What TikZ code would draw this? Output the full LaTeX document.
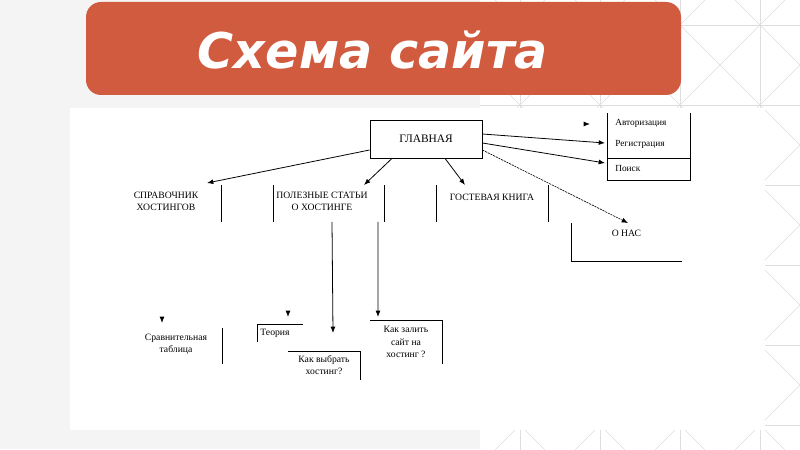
\documentclass[tikz,border=0pt]{standalone}
\usepackage{fontspec}
\setmainfont{Liberation Serif}
\newfontfamily\titlefont{DejaVu Sans Bold Oblique}
\usepackage{xcolor}
\usetikzlibrary{positioning}
\usetikzlibrary{arrows.meta}

\definecolor{brick}{RGB}{208,91,62}
\definecolor{pagegray}{RGB}{244,244,244}
\definecolor{gridgray}{RGB}{222,222,222}

\begin{document}
\begin{tikzpicture}[x=0.02cm, y=-0.02cm, line width=0.45pt,
  arr/.style={-{Latex[length=3.6pt,width=2.8pt]}},
  frame/.style={inner sep=0pt, outer sep=0pt},
  txt/.style={font=\fontsize{5.5}{6.9}\selectfont, align=center, inner sep=0.5pt},
  menutxt/.style={font=\fontsize{5.3}{6.5}\selectfont, anchor=west, inner sep=0.5pt},
  gridline/.style={draw=gridgray, line width=0.35pt}]

  % canvas 800 x 449 px
  \useasboundingbox (0,0) rectangle (800,449);
  \fill[pagegray] (0,0) rectangle (800,449);
  \fill[white] (480,0) rectangle (800,449);

  % faint pattern on the right
  \begin{scope}
    \clip (480,0) rectangle (800,449);
    \foreach \gx in {440,520,...,760} {
      \foreach \gy in {-55,25,...,425} {
        \draw[gridline] (\gx,\gy) rectangle ++(80,80);
        \draw[gridline] (\gx,\gy) -- ++(80,80);
        \draw[gridline] (\gx+80,\gy) -- ++(-80,80);
      }
    }
  \end{scope}

  % white sheet of the scheme
  \fill[white] (70,108) rectangle (765,430);

  % title bar
  \fill[brick, rounded corners=0.3cm] (86,2) rectangle (681,95);
  \node[font=\titlefont\fontsize{28}{32}\selectfont, text=white] (title) at (373,50) {Схема сайта};

  % main page
  \node[draw, minimum width=2.24cm, minimum height=0.76cm,
        font=\fontsize{6.5}{8}\selectfont] (main) at (426,139) {ГЛАВНАЯ};

  % user menu on the right
  \node[frame, minimum width=1.66cm, minimum height=1.34cm] (menu) at (648.5,146.5) {};
  \draw (menu.north west) -- (menu.south west) -- (menu.south east) -- (menu.north east);
  \draw ([yshift=-0.23cm]menu.west) -- ([yshift=-0.23cm]menu.east);
  \node[menutxt] (auth)   at (614,123) {Авторизация};
  \node[menutxt] (reg)    at (614,144) {Регистрация};
  \node[menutxt] (search) at (614,168) {Поиск};

  % second level
  \node[frame, minimum width=2.2cm,  minimum height=0.74cm] (sprav) at (166,203.5) {};
  \node[frame, minimum width=2.22cm, minimum height=0.74cm] (polez) at (328.5,203.5) {};
  \node[frame, minimum width=2.24cm, minimum height=0.74cm] (gost)  at (492,203.5) {};
  \node[frame, minimum width=2.22cm, minimum height=0.76cm] (onas)  at (626.5,242) {};

  \node[txt] (spravtxt) at ([yshift=0.05cm]sprav.center) {СПРАВОЧНИК\\ХОСТИНГОВ};
  \node[txt] (poleztxt) at ([xshift=-0.13cm,yshift=0.05cm]polez.center) {ПОЛЕЗНЫЕ СТАТЬИ\\О ХОСТИНГЕ};
  \node[txt] (gosttxt)  at ([yshift=0.13cm]gost.center) {ГОСТЕВАЯ КНИГА};
  \node[txt] (onastxt)  at ([yshift=0.18cm]onas.center) {О НАС};

  \draw (sprav.north east) -- (sprav.south east);
  \draw (polez.north west) -- (polez.south west) (polez.north east) -- (polez.south east);
  \draw (gost.north west) -- (gost.south west) (gost.north east) -- (gost.south east);
  \draw (onas.north west) -- (onas.south west) -- (onas.south east);

  % third level
  \node[frame, minimum width=1.84cm, minimum height=0.72cm] (compare) at (176,346) {};
  \node[frame, minimum width=0.92cm, minimum height=0.36cm] (theory)  at (280,333) {};
  \node[frame, minimum width=1.44cm, minimum height=0.58cm] (choose)  at (324,365.5) {};
  \node[frame, minimum width=1.44cm, minimum height=0.88cm] (upload)  at (406,342) {};

  \node[txt] (comparetxt) at ([yshift=0.04cm]compare.center) {Сравнительная\\таблица};
  \node[txt] (theorytxt)  at ([xshift=-0.1cm]theory.center) {Теория};
  \node[txt] (choosetxt)  at (choose.center) {Как выбрать\\хостинг?};
  \node[txt] (uploadtxt)  at (upload.center) {Как залить\\сайт на\\хостинг ?};

  \draw (compare.north east) -- (compare.south east);
  \draw (theory.north east) -- (theory.north west) -- (theory.south west);
  \draw (choose.north west) -- (choose.north east) -- (choose.south east);
  \draw (upload.north west) -- (upload.north east) -- (upload.south east);

  % links from the main page
  \draw[arr] ([yshift=0.1cm]main.east) -- ([xshift=-0.04cm,yshift=0.07cm]menu.west);
  \draw[arr] ([yshift=-0.08cm]main.east) -- ([xshift=-0.04cm,yshift=-0.33cm]menu.west);
  \draw[arr, line width=0.35pt, dash pattern=on 1.2pt off 0.5pt]
    ([yshift=-0.22cm]main.east) -- ([xshift=0.03cm]onas.north);
  \draw[arr] ([yshift=-0.22cm]main.west) -- ([xshift=-0.28cm,yshift=0.04cm]sprav.north east);
  \draw[arr] ([xshift=-0.68cm]main.south) -- ([xshift=-0.4cm]polez.north east);
  \draw[arr] ([xshift=0.38cm]main.south) -- ([xshift=0.58cm]gost.north west);

  % links to the articles
  \draw[arr] ([xshift=0.07cm]polez.south) -- ([xshift=0.18cm,yshift=0.36cm]choose.north);
  \draw[arr] ([xshift=0.99cm]polez.south) -- ([xshift=0.16cm,yshift=0.06cm]upload.north west);

  % loose arrow tips
  \draw[arr] ([xshift=-0.44cm,yshift=-0.22cm]menu.north west) -- ([xshift=-0.34cm,yshift=-0.22cm]menu.north west);
  \draw[arr] ([xshift=-0.28cm,yshift=0.2cm]compare.north) -- ([xshift=-0.28cm,yshift=0.1cm]compare.north);
  \draw[arr] ([xshift=0.16cm,yshift=0.24cm]theory.north) -- ([xshift=0.16cm,yshift=0.14cm]theory.north);

\end{tikzpicture}
\end{document}
